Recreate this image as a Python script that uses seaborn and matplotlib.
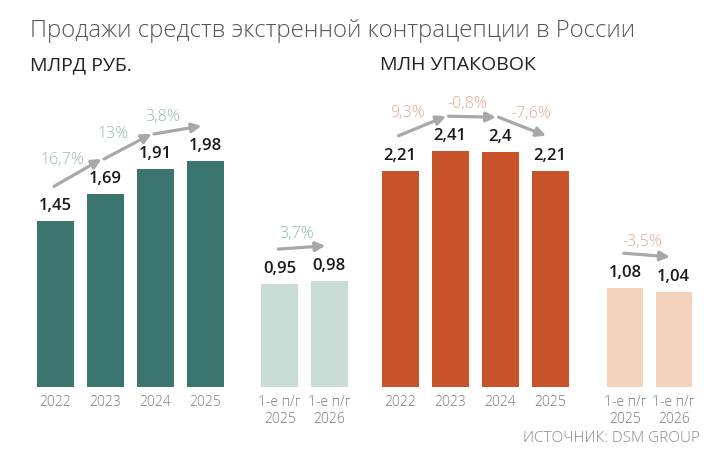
import matplotlib
matplotlib.use("Agg")
import matplotlib.pyplot as plt
import matplotlib.transforms as mtransforms
import seaborn as sns
import pandas as pd

years = ["2022", "2023", "2024", "2025"]
halves = ["1-е п/г\n2025", "1-е п/г\n2026"]

rub_year = [1.45, 1.69, 1.91, 1.98]
rub_half = [0.95, 0.98]
rub_year_pct = ["16,7%", "13%", "3,8%"]
rub_half_pct = ["3,7%"]

pack_year = [2.21, 2.41, 2.4, 2.21]
pack_half = [1.08, 1.04]
pack_year_pct = ["9,3%", "-0,8%", "-7,6%"]
pack_half_pct = ["-3,5%"]

TEAL = "#3b756f"
TEAL_L = "#c9ddd7"
TEAL_PCT = "#98b9b1"
ORANGE = "#c8532b"
ORANGE_L = "#f3d3bc"
ORANGE_PCT = "#e0ab90"
ARROW = "#a8a8a8"

sns.set_theme(style="white")
plt.rcParams["font.family"] = ["Open Sans", "DejaVu Sans"]

W, H = 725, 462
fig = plt.figure(figsize=(7.25, 4.62), dpi=100)
fig.patch.set_facecolor("white")

BASE = 386.7      # baseline, px from top
AX_H = 300        # axes height in px


def make_ax(left_px, right_px, px_per_unit):
    ax = fig.add_axes([left_px / W, 1 - BASE / H, (right_px - left_px) / W, AX_H / H])
    ax.set_ylim(0, AX_H / px_per_unit)
    return ax


def draw(ax, cats, vals, color, pct, pct_color):
    df = pd.DataFrame({"cat": cats, "val": vals})
    sns.barplot(data=df, x="cat", y="val", color=color, width=0.74,
                saturation=1, ax=ax, edgecolor="none")
    ax.set_xlim(-0.5, len(cats) - 0.5)
    ax.bar_label(ax.containers[0], labels=[f"{v:g}".replace(".", ",") for v in vals],
                 padding=5, fontsize=12, fontweight="semibold", color="#1a1a1a")
    ax.set_xlabel("")
    ax.set_ylabel("")
    ax.set_yticks([])
    ax.tick_params(axis="x", length=0, pad=6, labelsize=10, labelcolor="#7a7a7a")
    for lab in ax.get_xticklabels():
        lab.set_fontweight("light")
        lab.set_linespacing(1.15)
    sns.despine(ax=ax, left=True, bottom=True)
    ax.patch.set_alpha(0)

    up = mtransforms.offset_copy(ax.transData, fig=fig, x=0, y=35, units="dots")
    for i, txt in enumerate(pct):
        x0, y0 = i - 0.03, vals[i]
        x1, y1 = i + 0.92, vals[i + 1]
        ax.annotate("", xy=(x1, y1), xycoords=up, xytext=(x0, y0), textcoords=up,
                    arrowprops=dict(arrowstyle="-|>", color=ARROW, lw=2.3,
                                    mutation_scale=14, shrinkA=0, shrinkB=0))
        dv = vals[i + 1] - vals[i]
        dx = -15 if dv > 0.05 else (9 if dv < -0.1 else -5)
        ax.annotate(txt, xy=((x0 + x1) / 2, (y0 + y1) / 2), xycoords=up,
                    xytext=(dx, 13), textcoords="offset pixels",
                    ha="center", va="center", fontsize=11.5, fontweight="light",
                    color=pct_color)


ax1 = make_ax(30.5, 230.5, 114)
draw(ax1, years, rub_year, TEAL, rub_year_pct, TEAL_PCT)
ax2 = make_ax(255, 354, 108)
draw(ax2, halves, rub_half, TEAL_L, rub_half_pct, TEAL_PCT)
ax3 = make_ax(375, 575, 97.7)
draw(ax3, years, pack_year, ORANGE, pack_year_pct, ORANGE_PCT)
ax4 = make_ax(601, 698, 91.2)
draw(ax4, halves, pack_half, ORANGE_L, pack_half_pct, ORANGE_PCT)

fig.text(30 / W, 1 - 31 / H, "Продажи средств экстренной контрацепции в России",
         fontsize=17.2, fontweight="light", color="#555555", ha="left", va="center")
fig.text(30 / W, 1 - 65 / H, "МЛРД РУБ.", fontsize=14, color="#222222",
         ha="left", va="center")
fig.text(380 / W, 1 - 65 / H, "МЛН УПАКОВОК", fontsize=14, color="#222222",
         ha="left", va="center")
fig.text(700 / W, 1 - 438 / H, "ИСТОЧНИК: DSM GROUP", fontsize=11,
         fontweight="light", color="#8a8a8a", ha="right", va="center")

fig.savefig("out.png", dpi=100, facecolor="white")
